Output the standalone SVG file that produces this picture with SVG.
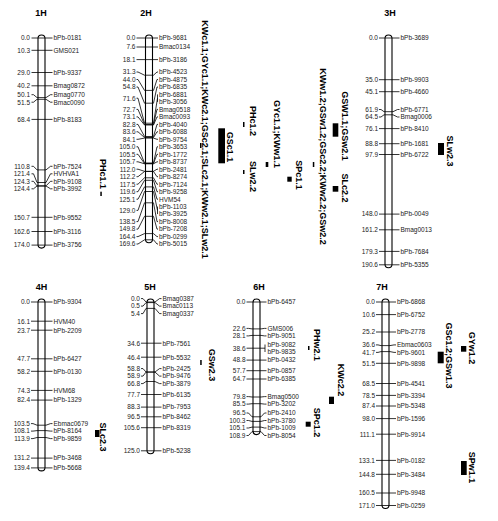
<svg xmlns="http://www.w3.org/2000/svg" width="498" height="521" viewBox="0 0 498 521">
<style>
.bg{fill:#fff}
.c{fill:#fff;stroke:#000;stroke-width:1.1}
.t{font-family:"Liberation Sans",Arial,sans-serif;font-size:9px;font-weight:bold;text-anchor:middle;fill:#000}
.n{font-family:"Liberation Sans",Arial,sans-serif;font-size:6.5px;text-anchor:end;fill:#222}
.m{font-family:"Liberation Sans",Arial,sans-serif;font-size:6.5px;text-anchor:start;fill:#222}
.q{font-family:"Liberation Sans",Arial,sans-serif;font-size:9px;font-weight:bold;text-anchor:middle;fill:#000}
.k polyline{fill:none;stroke:#000;stroke-width:0.8}
.b{fill:#000}
</style>
<rect class="bg" x="0" y="0" width="498" height="521"/>

<g id="chr1H">
<text class="t" x="41" y="16.2">1H</text>
<rect class="c" x="38" y="35" width="7" height="213.1" rx="3.5" ry="3.5"/>
<text class="n" x="30" y="40.3">0.0</text><text class="m" x="53.5" y="40.3">bPb-0181</text>
<text class="n" x="30" y="52.6">10.3</text><text class="m" x="53.5" y="52.6">GMS021</text>
<text class="n" x="30" y="74.8">29.0</text><text class="m" x="53.5" y="74.8">bPb-9337</text>
<text class="n" x="30" y="88.1">40.2</text><text class="m" x="53.5" y="88.1">Bmag0872</text>
<text class="n" x="30" y="97">50.1</text><text class="m" x="53.5" y="97">Bmag0770</text>
<text class="n" x="30" y="104.5">51.5</text><text class="m" x="53.5" y="104.5">Bmac0090</text>
<text class="n" x="30" y="121.7">68.4</text><text class="m" x="53.5" y="121.7">bPb-8183</text>
<text class="n" x="30" y="168.6">110.8</text><text class="m" x="53.5" y="168.6">bPb-7524</text>
<text class="n" x="30" y="176.1">121.4</text><text class="m" x="53.5" y="176.1">HVHVA1</text>
<text class="n" x="30" y="183.6">124.3</text><text class="m" x="53.5" y="183.6">bPb-9108</text>
<text class="n" x="30" y="191.1">124.4</text><text class="m" x="53.5" y="191.1">bPb-3992</text>
<text class="n" x="30" y="219.6">150.7</text><text class="m" x="53.5" y="219.6">bPb-9552</text>
<text class="n" x="30" y="233.8">162.6</text><text class="m" x="53.5" y="233.8">bPb-3116</text>
<text class="n" x="30" y="247.4">174.0</text><text class="m" x="53.5" y="247.4">bPb-3756</text>
</g>

<g id="chr2H">
<text class="t" x="146" y="16.2">2H</text>
<rect class="c" x="145.5" y="35" width="7" height="207.8" rx="3.5" ry="3.5"/>
<text class="n" x="135.5" y="40.3">0.0</text>
<text class="n" x="135.5" y="49.3">7.6</text>
<text class="n" x="135.5" y="61.9">18.1</text>
<text class="n" x="135.5" y="74.3">31.3</text>
<text class="n" x="135.5" y="81.8">44.0</text>
<text class="n" x="135.5" y="89.3">54.8</text>
<text class="n" x="135.5" y="100.5">71.6</text>
<text class="n" x="135.5" y="111.7">72.7</text>
<text class="n" x="135.5" y="119.2">73.1</text>
<text class="n" x="135.5" y="126.7">82.8</text>
<text class="n" x="135.5" y="134.1">83.6</text>
<text class="n" x="135.5" y="141.6">84.1</text>
<text class="n" x="135.5" y="149.1">105.0</text>
<text class="n" x="135.5" y="156.6">105.5</text>
<text class="n" x="135.5" y="164.1">105.7</text>
<text class="n" x="135.5" y="171.5">112.0</text>
<text class="n" x="135.5" y="179">112.2</text>
<text class="n" x="135.5" y="186.5">117.5</text>
<text class="n" x="135.5" y="194">119.6</text>
<text class="n" x="135.5" y="201.5">125.1</text>
<text class="n" x="135.5" y="212.7">129.0</text>
<text class="n" x="135.5" y="223.9">138.5</text>
<text class="n" x="135.5" y="231.4">149.8</text>
<text class="n" x="135.5" y="238.9">164.4</text>
<text class="n" x="135.5" y="246.3">169.6</text>
<text class="m" x="159" y="40.3">bPb-9681</text>
<text class="m" x="159" y="49.3">Bmac0134</text>
<text class="m" x="159" y="61.9">bPb-3186</text>
<text class="m" x="159" y="74.3">bPb-4523</text>
<text class="m" x="159" y="81.8">bPb-4875</text>
<text class="m" x="159" y="89.3">bPb-6835</text>
<text class="m" x="159" y="96.7">bPb-6881</text>
<text class="m" x="159" y="104.2">bPb-3056</text>
<text class="m" x="159" y="111.7">Bmag0518</text>
<text class="m" x="159" y="119.2">Bmac0093</text>
<text class="m" x="159" y="126.7">bPb-4040</text>
<text class="m" x="159" y="134.1">bPb-6088</text>
<text class="m" x="159" y="141.6">bPb-9754</text>
<text class="m" x="159" y="149.1">bPb-3653</text>
<text class="m" x="159" y="156.6">bPb-1772</text>
<text class="m" x="159" y="164.1">bPb-8737</text>
<text class="m" x="159" y="171.5">bPb-2481</text>
<text class="m" x="159" y="179">bPb-8274</text>
<text class="m" x="159" y="186.5">bPb-7124</text>
<text class="m" x="159" y="194">bPb-9258</text>
<text class="m" x="159" y="201.5">HVM54</text>
<text class="m" x="159" y="208.9">bPb-1103</text>
<text class="m" x="159" y="216.4">bPb-3925</text>
<text class="m" x="159" y="223.9">bPb-8008</text>
<text class="m" x="159" y="231.4">bPb-7208</text>
<text class="m" x="159" y="238.9">bPb-0299</text>
<text class="m" x="159" y="246.3">bPb-5015</text>
</g>

<g id="chr3H">
<text class="t" x="390" y="16.2">3H</text>
<rect class="c" x="385" y="35" width="7" height="232.8" rx="3.5" ry="3.5"/>
<text class="n" x="378" y="40.3">0.0</text><text class="m" x="400.5" y="40.3">bPb-3689</text>
<text class="n" x="378" y="82">35.0</text><text class="m" x="400.5" y="82">bPb-9903</text>
<text class="n" x="378" y="94">45.1</text><text class="m" x="400.5" y="94">bPb-4660</text>
<text class="n" x="378" y="111.8">61.9</text><text class="m" x="400.5" y="111.8">bPb-6771</text>
<text class="n" x="378" y="119.3">64.5</text><text class="m" x="400.5" y="119.3">Bmag0006</text>
<text class="n" x="378" y="130.9">76.1</text><text class="m" x="400.5" y="130.9">bPb-8410</text>
<text class="n" x="378" y="146">88.8</text><text class="m" x="400.5" y="146">bPb-1681</text>
<text class="n" x="378" y="156.8">97.9</text><text class="m" x="400.5" y="156.8">bPb-6722</text>
<text class="n" x="378" y="216.4">148.0</text><text class="m" x="400.5" y="216.4">bPb-0049</text>
<text class="n" x="378" y="232.1">161.2</text><text class="m" x="400.5" y="232.1">Bmag0013</text>
<text class="n" x="378" y="253.7">179.3</text><text class="m" x="400.5" y="253.7">bPb-7684</text>
<text class="n" x="378" y="267.1">190.6</text><text class="m" x="400.5" y="267.1">bPb-5355</text>
</g>

<g id="chr4H">
<text class="t" x="41.5" y="290">4H</text>
<rect class="c" x="38" y="299" width="7" height="171.9" rx="3.5" ry="3.5"/>
<text class="n" x="30" y="304.3">0.0</text><text class="m" x="53.5" y="304.3">bPb-9304</text>
<text class="n" x="30" y="323.5">16.1</text><text class="m" x="53.5" y="323.5">HVM40</text>
<text class="n" x="30" y="332.5">23.7</text><text class="m" x="53.5" y="332.5">bPb-2209</text>
<text class="n" x="30" y="361.1">47.7</text><text class="m" x="53.5" y="361.1">bPb-6427</text>
<text class="n" x="30" y="373.6">58.2</text><text class="m" x="53.5" y="373.6">bPb-0130</text>
<text class="n" x="30" y="392.7">74.3</text><text class="m" x="53.5" y="392.7">HVM68</text>
<text class="n" x="30" y="402.4">82.4</text><text class="m" x="53.5" y="402.4">bPb-1329</text>
<text class="n" x="30" y="425.9">103.5</text><text class="m" x="53.5" y="425.9">Ebmac0679</text>
<text class="n" x="30" y="433.4">108.1</text><text class="m" x="53.5" y="433.4">bPb-8164</text>
<text class="n" x="30" y="440.9">113.9</text><text class="m" x="53.5" y="440.9">bPb-9859</text>
<text class="n" x="30" y="460.4">131.2</text><text class="m" x="53.5" y="460.4">bPb-3468</text>
<text class="n" x="30" y="470.2">139.4</text><text class="m" x="53.5" y="470.2">bPb-5668</text>
</g>

<g id="chr5H">
<text class="t" x="150" y="290">5H</text>
<rect class="c" x="147" y="299" width="7" height="154.8" rx="3.5" ry="3.5"/>
<text class="n" x="140" y="300.9">0.0</text><text class="m" x="162.5" y="300.9">Bmag0387</text>
<text class="n" x="140" y="308.4">0.5</text><text class="m" x="162.5" y="308.4">Bmac0113</text>
<text class="n" x="140" y="315.9">5.4</text><text class="m" x="162.5" y="315.9">Bmag0337</text>
<text class="n" x="140" y="345.5">34.6</text><text class="m" x="162.5" y="345.5">bPb-7561</text>
<text class="n" x="140" y="359.5">46.4</text><text class="m" x="162.5" y="359.5">bPb-5532</text>
<text class="n" x="140" y="370.9">58.8</text><text class="m" x="162.5" y="370.9">bPb-2425</text>
<text class="n" x="140" y="378.4">58.9</text><text class="m" x="162.5" y="378.4">bPb-9476</text>
<text class="n" x="140" y="385.9">66.8</text><text class="m" x="162.5" y="385.9">bPb-3879</text>
<text class="n" x="140" y="396.8">77.7</text><text class="m" x="162.5" y="396.8">bPb-6135</text>
<text class="n" x="140" y="409.4">88.3</text><text class="m" x="162.5" y="409.4">bPb-7953</text>
<text class="n" x="140" y="419.1">96.5</text><text class="m" x="162.5" y="419.1">bPb-8462</text>
<text class="n" x="140" y="430">105.6</text><text class="m" x="162.5" y="430">bPb-8319</text>
<text class="n" x="140" y="453.1">125.0</text><text class="m" x="162.5" y="453.1">bPb-5238</text>
</g>

<g id="chr6H">
<text class="t" x="259" y="290">6H</text>
<rect class="c" x="253" y="299" width="7" height="135.6" rx="3.5" ry="3.5"/>
<text class="n" x="245.5" y="304.3">0.0</text><text class="m" x="267.5" y="304.3">bPb-6457</text>
<text class="n" x="245.5" y="330.7">22.6</text><text class="m" x="267.5" y="330.7">GMS006</text>
<text class="n" x="245.5" y="338.2">28.1</text><text class="m" x="267.5" y="338.2">bPb-9051</text>
<text class="n" x="245.5" y="350.5">38.6</text><text class="m" x="267.5" y="346.8">bPb-9082</text><text class="m" x="267.5" y="354.3">bPb-9835</text>
<text class="n" x="245.5" y="362.4">48.8</text><text class="m" x="267.5" y="362.4">bPb-0432</text>
<text class="n" x="245.5" y="373">57.7</text><text class="m" x="267.5" y="373">bPb-0857</text>
<text class="n" x="245.5" y="381.3">64.7</text><text class="m" x="267.5" y="381.3">bPb-6385</text>
<text class="n" x="245.5" y="398.9">79.8</text><text class="m" x="267.5" y="398.9">Bmag0500</text>
<text class="n" x="245.5" y="406.4">85.5</text><text class="m" x="267.5" y="406.4">bPb-3202</text>
<text class="n" x="245.5" y="415.3">96.5</text><text class="m" x="267.5" y="415.3">bPb-2410</text>
<text class="n" x="245.5" y="422.8">100.3</text><text class="m" x="267.5" y="422.8">bPb-3780</text>
<text class="n" x="245.5" y="430.3">105.1</text><text class="m" x="267.5" y="430.3">bPb-1009</text>
<text class="n" x="245.5" y="437.8">108.9</text><text class="m" x="267.5" y="437.8">bPb-8054</text>
</g>

<g id="chr7H">
<text class="t" x="382" y="290">7H</text>
<rect class="c" x="382" y="299" width="7" height="209.5" rx="3.5" ry="3.5"/>
<text class="n" x="375" y="304.3">0.0</text><text class="m" x="397" y="304.3">bPb-6868</text>
<text class="n" x="375" y="316.9">10.6</text><text class="m" x="397" y="316.9">bPb-6752</text>
<text class="n" x="375" y="334.3">25.2</text><text class="m" x="397" y="334.3">bPb-2778</text>
<text class="n" x="375" y="347.2">36.6</text><text class="m" x="397" y="347.2">Ebmac0603</text>
<text class="n" x="375" y="354.7">41.7</text><text class="m" x="397" y="354.7">bPb-9601</text>
<text class="n" x="375" y="365.6">51.5</text><text class="m" x="397" y="365.6">bPb-9898</text>
<text class="n" x="375" y="385.8">68.5</text><text class="m" x="397" y="385.8">bPb-4541</text>
<text class="n" x="375" y="397.7">78.5</text><text class="m" x="397" y="397.7">bPb-3394</text>
<text class="n" x="375" y="408.3">87.4</text><text class="m" x="397" y="408.3">bPb-5348</text>
<text class="n" x="375" y="420.9">98.0</text><text class="m" x="397" y="420.9">bPb-1596</text>
<text class="n" x="375" y="436.5">111.1</text><text class="m" x="397" y="436.5">bPb-9914</text>
<text class="n" x="375" y="462.7">133.1</text><text class="m" x="397" y="462.7">bPb-0182</text>
<text class="n" x="375" y="476.6">144.8</text><text class="m" x="397" y="476.6">bPb-3484</text>
<text class="n" x="375" y="495.3">160.5</text><text class="m" x="397" y="495.3">bPb-9948</text>
<text class="n" x="375" y="507.8">171.0</text><text class="m" x="397" y="507.8">bPb-0259</text>
</g>

<g id="connectors" class="k">
<!-- 1H -->
<polyline points="31.5,38 52.5,38"/>
<polyline points="31.5,50.3 52.5,50.3"/>
<polyline points="31.5,72.5 52.5,72.5"/>
<polyline points="31.5,85.8 52.5,85.8"/>
<polyline points="31.5,94.7 33.5,94.7 37,97.6 46,97.6 50.5,94.7 52.5,94.7"/>
<polyline points="31.5,102.2 33.5,102.2 37,99.3 46,99.3 50.5,102.2 52.5,102.2"/>
<polyline points="31.5,119.4 52.5,119.4"/>
<polyline points="31.5,166.3 33.5,166.3 37,169.9 46,169.9 50.5,166.3 52.5,166.3"/>
<polyline points="31.5,173.8 33.5,173.8 37,182.5 46,182.5 50.5,173.8 52.5,173.8"/>
<polyline points="31.5,181.3 33.5,181.3 37,185.9 46,185.9 50.5,181.3 52.5,181.3"/>
<polyline points="31.5,188.8 33.5,188.8 37,186 46,186 50.5,188.8 52.5,188.8"/>
<polyline points="31.5,217.3 52.5,217.3"/>
<polyline points="31.5,231.5 52.5,231.5"/>
<polyline points="31.5,245.1 52.5,245.1"/>
<!-- 2H -->
<polyline points="136.5,38 158,38"/>
<polyline points="136.5,47 158,47"/>
<polyline points="136.5,59.6 158,59.6"/>
<polyline points="136.5,72 138,72 144.5,75.2 153.5,75.2 157,72 158,72"/>
<polyline points="136.5,79.5 138,79.5 144.5,90.4 153.5,90.4 157,79.5 158,79.5"/>
<polyline points="136.5,87 138,87 144.5,103.2 153.5,103.2 157,87 158,87"/>
<polyline points="136.5,98.2 138,98.2 144.5,123.2 153.5,123.2 157.5,98.2"/>
<polyline points="157.5,94.4 157.5,101.9"/>
<polyline points="136.5,109.4 138,109.4 144.5,124.5 153.5,124.5 157,109.4 158,109.4"/>
<polyline points="136.5,116.9 138,116.9 144.5,125 153.5,125 157,116.9 158,116.9"/>
<polyline points="136.5,124.4 138,124.4 144.5,136.5 153.5,136.5 157,124.4 158,124.4"/>
<polyline points="136.5,131.8 138,131.8 144.5,137.5 153.5,137.5 157,131.8 158,131.8"/>
<polyline points="136.5,139.3 138,139.3 144.5,138.1 153.5,138.1 157,139.3 158,139.3"/>
<polyline points="136.5,146.8 138,146.8 144.5,163 153.5,163 157,146.8 158,146.8"/>
<polyline points="136.5,154.3 138,154.3 144.5,163.5 153.5,163.5 157,154.3 158,154.3"/>
<polyline points="136.5,161.8 138,161.8 144.5,163.8 153.5,163.8 157,161.8 158,161.8"/>
<polyline points="136.5,169.2 138,169.2 144.5,171.3 153.5,171.3 157,169.2 158,169.2"/>
<polyline points="136.5,176.7 138,176.7 144.5,171.5 153.5,171.5 157,176.7 158,176.7"/>
<polyline points="136.5,184.2 138,184.2 144.5,177.8 153.5,177.8 157,184.2 158,184.2"/>
<polyline points="136.5,191.7 138,191.7 144.5,180.3 153.5,180.3 157,191.7 158,191.7"/>
<polyline points="136.5,199.2 138,199.2 144.5,186.9 153.5,186.9 157,199.2 158,199.2"/>
<polyline points="136.5,210.4 138,210.4 144.5,191.5 153.5,191.5 157.5,210.4"/>
<polyline points="157.5,206.6 157.5,214.1"/>
<polyline points="136.5,221.6 138,221.6 144.5,202.8 153.5,202.8 157,221.6 158,221.6"/>
<polyline points="136.5,229.1 138,229.1 144.5,216.3 153.5,216.3 157,229.1 158,229.1"/>
<polyline points="136.5,236.6 138,236.6 144.5,233.6 153.5,233.6 157,236.6 158,236.6"/>
<polyline points="136.5,244 138,244 144.5,239.8 153.5,239.8 157,244 158,244"/>
<!-- 3H -->
<polyline points="379,38 399.5,38"/>
<polyline points="379,79.7 399.5,79.7"/>
<polyline points="379,91.7 399.5,91.7"/>
<polyline points="379,109.5 381,109.5 384,111.7 393,111.7 397.5,109.5 399.5,109.5"/>
<polyline points="379,117 381,117 384,114.8 393,114.8 397.5,117 399.5,117"/>
<polyline points="379,128.6 399.5,128.6"/>
<polyline points="379,143.7 399.5,143.7"/>
<polyline points="379,154.5 399.5,154.5"/>
<polyline points="379,214.1 399.5,214.1"/>
<polyline points="379,229.8 399.5,229.8"/>
<polyline points="379,251.4 399.5,251.4"/>
<polyline points="379,264.8 399.5,264.8"/>
<!-- 4H -->
<polyline points="31,302 52.5,302"/>
<polyline points="31,321.2 52.5,321.2"/>
<polyline points="31,330.2 52.5,330.2"/>
<polyline points="31,358.8 52.5,358.8"/>
<polyline points="31,371.3 52.5,371.3"/>
<polyline points="31,390.4 52.5,390.4"/>
<polyline points="31,400.1 52.5,400.1"/>
<polyline points="31,423.6 33,423.6 37,425.2 46,425.2 50.5,423.6 52.5,423.6"/>
<polyline points="31,431.1 33,431.1 37,430.6 46,430.6 50.5,431.1 52.5,431.1"/>
<polyline points="31,438.6 33,438.6 37,437.5 46,437.5 50.5,438.6 52.5,438.6"/>
<polyline points="31,458.1 52.5,458.1"/>
<polyline points="31,467.9 52.5,467.9"/>
<!-- 5H -->
<polyline points="141,298.6 143,298.6 146,302 155,302 159.5,298.6 161.5,298.6"/>
<polyline points="141,306.1 143,306.1 146,302.6 155,302.6 159.5,306.1 161.5,306.1"/>
<polyline points="141,313.6 143,313.6 146,308.4 155,308.4 159.5,313.6 161.5,313.6"/>
<polyline points="141,343.2 161.5,343.2"/>
<polyline points="141,357.2 161.5,357.2"/>
<polyline points="141,368.6 143,368.6 146,372 155,372 159.5,368.6 161.5,368.6"/>
<polyline points="141,376.1 143,376.1 146,372.1 155,372.1 159.5,376.1 161.5,376.1"/>
<polyline points="141,383.6 143,383.6 146,381.5 155,381.5 159.5,383.6 161.5,383.6"/>
<polyline points="141,394.5 161.5,394.5"/>
<polyline points="141,407.1 161.5,407.1"/>
<polyline points="141,416.8 161.5,416.8"/>
<polyline points="141,427.7 161.5,427.7"/>
<polyline points="141,450.8 161.5,450.8"/>
<!-- 6H -->
<polyline points="246.5,302 266.5,302"/>
<polyline points="246.5,328.4 248.5,328.4 252,328.9 261,328.9 264.5,328.4 266.5,328.4"/>
<polyline points="246.5,335.9 248.5,335.9 252,335.4 261,335.4 264.5,335.9 266.5,335.9"/>
<polyline points="246.5,348.2 265,348.2"/>
<polyline points="265,344.5 265,352"/>
<polyline points="246.5,360.1 266.5,360.1"/>
<polyline points="246.5,370.7 266.5,370.7"/>
<polyline points="246.5,379 266.5,379"/>
<polyline points="246.5,396.6 248.5,396.6 252,397 261,397 264.5,396.6 266.5,396.6"/>
<polyline points="246.5,404.1 248.5,404.1 252,403.7 261,403.7 264.5,404.1 266.5,404.1"/>
<polyline points="246.5,413 248.5,413 252,416.8 261,416.8 264.5,413 266.5,413"/>
<polyline points="246.5,420.5 248.5,420.5 252,421.4 261,421.4 264.5,420.5 266.5,420.5"/>
<polyline points="246.5,428 248.5,428 252,427.1 261,427.1 264.5,428 266.5,428"/>
<polyline points="246.5,435.5 248.5,435.5 252,431.6 261,431.6 264.5,435.5 266.5,435.5"/>
<!-- 7H -->
<polyline points="376,302 396,302"/>
<polyline points="376,314.6 396,314.6"/>
<polyline points="376,332 396,332"/>
<polyline points="376,344.9 378,344.9 381,345.6 390,345.6 394,344.9 396,344.9"/>
<polyline points="376,352.4 378,352.4 381,351.6 390,351.6 394,352.4 396,352.4"/>
<polyline points="376,363.3 396,363.3"/>
<polyline points="376,383.5 396,383.5"/>
<polyline points="376,395.4 396,395.4"/>
<polyline points="376,406 396,406"/>
<polyline points="376,418.6 396,418.6"/>
<polyline points="376,434.2 396,434.2"/>
<polyline points="376,460.4 396,460.4"/>
<polyline points="376,474.3 396,474.3"/>
<polyline points="376,493 396,493"/>
<polyline points="376,505.5 396,505.5"/>
</g>

<g id="qtl-PHc1.1"><rect class="b" x="100.3" y="191.7" width="1.5" height="4.3"/><text class="q" transform="translate(103.5,174) rotate(90)" y="3.2">PHc1.1</text></g>
<g id="qtl-2H-long"><rect class="b" x="200" y="143" width="1.5" height="5"/><text class="q" transform="translate(205,139.5) rotate(90)" y="3.2">KWc1.1;GYc1.1;KWc2.1;GSc2.1;SLc2.1;KWw2.1;SLw2.1</text></g>
<g id="qtl-GSc1.1"><rect class="b" x="218.3" y="128.3" width="6.7" height="35"/><text class="q" transform="translate(230.5,147) rotate(90)" y="3.2">GSc1.1</text></g>
<g id="qtl-PHc1.2"><rect class="b" x="243" y="122" width="1.5" height="5"/><text class="q" transform="translate(253.7,121) rotate(90)" y="3.2">PHc1.2</text></g>
<g id="qtl-SLw2.2"><rect class="b" x="243" y="170" width="1.5" height="4"/><text class="q" transform="translate(253.7,176.5) rotate(90)" y="3.2">SLw2.2</text></g>
<g id="qtl-GYc1.1"><rect class="b" x="265.7" y="162" width="2.6" height="5"/><text class="q" transform="translate(277,134) rotate(90)" y="3.2">GYc1.1;KWw1.1</text></g>
<g id="qtl-SPc1.1"><rect class="b" x="287.3" y="176.7" width="4.4" height="5"/><text class="q" transform="translate(299,175) rotate(90)" y="3.2">SPc1.1</text></g>
<g id="qtl-KWw1.2"><rect class="b" x="312.8" y="162" width="1.5" height="5"/><text class="q" transform="translate(323,156.5) rotate(90)" y="3.2">KWw1.2;GSw1.2;GSc2.2;KWw2.2;GSw2.2</text></g>
<g id="qtl-GSW1.1"><rect class="b" x="332.7" y="123.3" width="5.6" height="13.4"/><text class="q" transform="translate(345.5,126) rotate(90)" y="3.2">GSW1.1;GSw2.1</text></g>
<g id="qtl-SLc2.2"><rect class="b" x="332.7" y="186" width="5.6" height="5.7"/><text class="q" transform="translate(345.5,188) rotate(90)" y="3.2">SLc2.2</text></g>
<g id="qtl-SLw2.3"><rect class="b" x="438" y="143" width="6" height="12"/><text class="q" transform="translate(450,151) rotate(90)" y="3.2">SLw2.3</text></g>
<g id="qtl-SLc2.3"><rect class="b" x="95" y="430" width="4.5" height="7"/><text class="q" transform="translate(103.5,437) rotate(90)" y="3.2">SLc2.3</text></g>
<g id="qtl-GSw2.3"><rect class="b" x="200.2" y="360" width="1.5" height="5"/><text class="q" transform="translate(212.3,365) rotate(90)" y="3.2">GSw2.3</text></g>
<g id="qtl-PHw2.1"><rect class="b" x="308" y="346" width="1.5" height="4"/><text class="q" transform="translate(317.7,345) rotate(90)" y="3.2">PHw2.1</text></g>
<g id="qtl-KWc2.2"><rect class="b" x="329" y="396.7" width="5" height="7.3"/><text class="q" transform="translate(341,380) rotate(90)" y="3.2">KWc2.2</text></g>
<g id="qtl-SPc1.2"><rect class="b" x="305.7" y="421.7" width="5" height="5"/><text class="q" transform="translate(317.7,422.5) rotate(90)" y="3.2">SPc1.2</text></g>
<g id="qtl-GYw1.2"><rect class="b" x="461" y="346" width="5.3" height="5.7"/><text class="q" transform="translate(472.7,348) rotate(90)" y="3.2">GYw1.2</text></g>
<g id="qtl-GSc1.2"><rect class="b" x="437.7" y="351.7" width="6" height="11.6"/><text class="q" transform="translate(449.3,355.5) rotate(90)" y="3.2">GSc1.2;GSw1.3</text></g>
<g id="qtl-SPw1.1"><rect class="b" x="461" y="461" width="5.7" height="14"/><text class="q" transform="translate(472.7,467.5) rotate(90)" y="3.2">SPw1.1</text></g>
</svg>
